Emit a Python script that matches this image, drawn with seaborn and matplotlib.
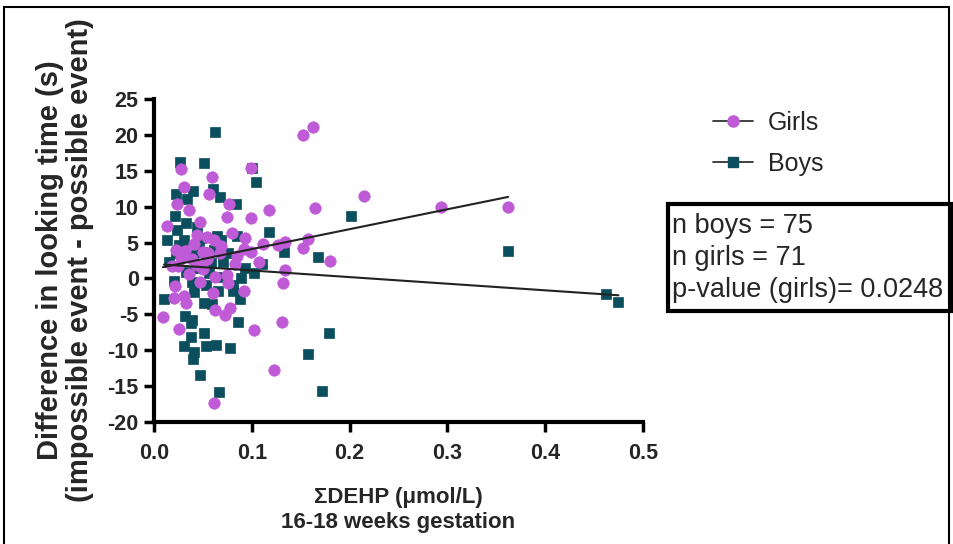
import numpy as np
import pandas as pd
import matplotlib
matplotlib.use("Agg")
import matplotlib.pyplot as plt
import seaborn as sns
from matplotlib.lines import Line2D
from matplotlib.patches import Rectangle

# ---- data ----
boys_x = [0.0623, 0.0267, 0.0513, 0.1002, 0.1046, 0.0230, 0.0400, 0.0338, 0.0602, 0.0677,
          0.0841, 0.0215, 0.0332, 0.0233, 0.0137, 0.0302, 0.0445, 0.0462, 0.0640, 0.0684,
          0.0845, 0.1173, 0.0753, 0.1333, 0.0223, 0.1102, 0.0582, 0.1026, 0.0205, 0.0384,
          0.0410, 0.0656, 0.0804, 0.0804, 0.0882, 0.0103, 0.0513, 0.0592, 0.0318, 0.0387,
          0.0376, 0.0862, 0.0507, 0.0376, 0.0302, 0.0533, 0.0636, 0.0779, 0.0410, 0.0394,
          0.0469, 0.0664, 0.2010, 0.3621, 0.1672, 0.4626, 0.4749, 0.1785, 0.1579, 0.1720,
          0.0394, 0.0541, 0.0496, 0.0558, 0.0667, 0.0151, 0.0438, 0.0705, 0.0325, 0.0530,
          0.0930, 0.0253, 0.0889, 0.0479, 0.0612]
boys_y = [20.36, 16.17, 16.09, 15.43, 13.48, 11.76, 12.12, 11.06, 12.50, 11.38,
          10.36, 8.73, 7.65, 6.68, 5.42, 5.42, 7.23, 4.92, 5.94, 5.38,
          5.84, 6.40, 3.60, 3.74, 3.52, 2.03, 2.12, 0.73, -0.31, -0.45,
          -1.84, -1.70, -0.91, -1.70, -2.91, -2.86, -3.38, -3.60, -5.24, -5.80,
          -6.26, -6.08, -7.57, -8.17, -9.43, -9.43, -9.25, -9.75, -10.31, -11.28,
          -13.48, -15.85, 8.73, 3.80, 3.04, -2.12, -3.28, -7.65, -10.59, -15.71,
          3.28, 2.82, 3.74, 0.73, 0.25, 2.30, 1.47, 2.30, 0.91, -0.91,
          1.47, 4.68, 0.07, 5.66, 3.98]

girls_x = [0.0281, 0.0992, 0.0589, 0.0308, 0.0561, 0.0240, 0.0353, 0.0769, 0.1176, 0.0466,
           0.0746, 0.0992, 0.0137, 0.0435, 0.0541, 0.0609, 0.0794, 0.0930, 0.1118, 0.1266,
           0.1341, 0.0230, 0.0318, 0.0503, 0.0548, 0.0671, 0.0923, 0.0384, 0.0541, 0.0825,
           0.1074, 0.0189, 0.0246, 0.1341, 0.0503, 0.0623, 0.0746, 0.0759, 0.1317, 0.0219,
           0.0923, 0.0205, 0.0302, 0.0325, 0.0602, 0.0626, 0.0776, 0.0728, 0.0092, 0.0253,
           0.1026, 0.1313, 0.1231, 0.0615, 0.1522, 0.1625, 0.2144, 0.1645, 0.2933, 0.3621,
           0.1573, 0.1525, 0.1802, 0.0445, 0.0407, 0.0684, 0.0274, 0.0848, 0.0469, 0.0356,
           0.0992]
girls_y = [15.25, 15.34, 14.08, 12.74, 11.76, 10.36, 9.47, 10.41, 9.57, 7.89,
           8.49, 8.45, 7.29, 5.98, 5.80, 5.38, 6.31, 5.61, 4.82, 4.64,
           5.14, 3.98, 3.88, 3.74, 3.52, 3.52, 4.16, 2.68, 2.68, 2.03,
           2.35, 1.75, 1.75, 1.19, 1.33, 0.17, 0.49, -0.67, -0.59, -1.05,
           -1.75, -2.77, -2.44, -3.46, -2.07, -4.40, -4.08, -5.10, -5.42, -7.09,
           -7.19, -6.03, -12.78, -17.29, 20.04, 21.12, 11.42, 9.85, 9.99, 9.89,
           5.47, 4.22, 2.44, 1.89, 4.82, 4.54, 2.86, 3.14, -0.49, 0.63,
           3.70]

x_ticks = [0.0, 0.1, 0.2, 0.3, 0.4, 0.5]
y_ticks = [-20, -15, -10, -5, 0, 5, 10, 15, 20, 25]
stats_lines = ["n boys = 75", "n girls = 71", "p-value (girls)= 0.0248"]

GIRL_C = "#BF5BD6"
BOY_C = "#0B4F5E"

df = pd.DataFrame({
    "x": boys_x + girls_x,
    "y": boys_y + girls_y,
    "group": ["Boys"] * len(boys_x) + ["Girls"] * len(girls_x),
})

sns.set_style("white")
plt.rcParams["font.family"] = ["Liberation Sans", "DejaVu Sans"]

fig = plt.figure(figsize=(9.54, 5.44), dpi=100)
ax = fig.add_axes([0.1614, 0.2243, 0.5126, 0.5938])

sns.scatterplot(data=df[df.group == "Boys"], x="x", y="y", marker="s", color=BOY_C,
                s=62, edgecolor=BOY_C, linewidth=0.5, ax=ax, zorder=2, legend=False)
sns.scatterplot(data=df[df.group == "Girls"], x="x", y="y", marker="o", color=GIRL_C,
                s=68, edgecolor=GIRL_C, linewidth=0.5, ax=ax, zorder=2, legend=False)

for g in ["Boys", "Girls"]:
    sub = df[df.group == g]
    sns.regplot(data=sub, x="x", y="y", scatter=False, ci=None, truncate=True,
                line_kws=dict(color="#222222", lw=1.5, zorder=3), ax=ax)

ax.set_xlim(0, 0.5)
ax.set_ylim(-20, 25)
ax.set_xticks(x_ticks)
ax.set_xticklabels([f"{t:.1f}" for t in x_ticks])
ax.set_yticks(y_ticks)
ax.set_yticklabels([str(t) for t in y_ticks])
for side in ["top", "right"]:
    ax.spines[side].set_visible(False)
for side in ["left", "bottom"]:
    ax.spines[side].set_linewidth(3)
    ax.spines[side].set_color("black")
ax.tick_params(axis="both", direction="out", length=7, width=2.5, color="black",
               labelsize=15.5, bottom=True, left=True)
ax.tick_params(axis="x", pad=8)
ax.tick_params(axis="y", pad=4)
for lab in ax.get_xticklabels() + ax.get_yticklabels():
    lab.set_fontweight("bold")

ax.set_xlabel("ΣDEHP (μmol/L)\n16-18 weeks gestation", fontsize=16, fontweight="bold",
              labelpad=17, linespacing=1.2)
ax.set_ylabel("Difference in looking time (s)\n(impossible event - possible event)",
              fontsize=21, fontweight="bold", labelpad=10, linespacing=1.06)

handles = [
    Line2D([0], [0], color="#333333", lw=1.3, marker="o", markersize=8,
           markerfacecolor=GIRL_C, markeredgecolor=GIRL_C),
    Line2D([0], [0], color="#333333", lw=1.3, marker="s", markersize=7,
           markerfacecolor=BOY_C, markeredgecolor=BOY_C),
]
fig.legend(handles, ["Girls", "Boys"], loc="upper left", bbox_to_anchor=(0.724, 0.837),
           frameon=False, fontsize=18, handlelength=1.6, labelspacing=0.68,
           handletextpad=0.6)

# stats box
fig.patches.append(Rectangle((668 / 954, 1 - 311 / 544), (951 - 668) / 954, (311 - 204) / 544,
                             transform=fig.transFigure, fill=False, edgecolor="black",
                             linewidth=3))
for i, t in enumerate(stats_lines):
    fig.text(672 / 954, 1 - (226 + i * 32) / 544, t, fontsize=19.5, va="center", ha="left")

# outer frame
fig.patches.append(Rectangle((4 / 954, -0.1), (949 - 4) / 954, 1.1 - 7 / 544,
                             transform=fig.transFigure, fill=False, edgecolor="black",
                             linewidth=1.5, clip_on=False))

fig.savefig("out.png", dpi=100)
